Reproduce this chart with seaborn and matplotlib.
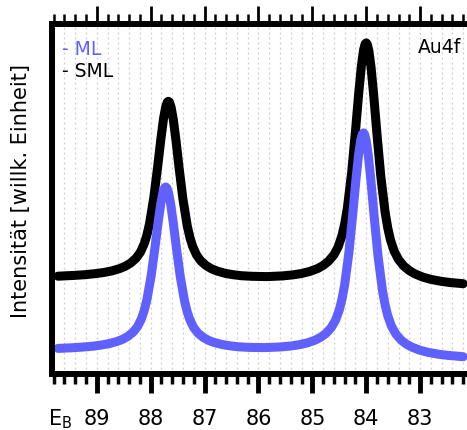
import matplotlib
matplotlib.use("Agg")
import matplotlib.pyplot as plt
from matplotlib.ticker import MultipleLocator
import seaborn as sns

# Au4f-Spektren, Werte (Intensität in willk. Einheiten)
energy_sml = [89.72, 89.42, 89.22, 89.02, 88.87, 88.72, 88.57, 88.47, 88.37, 88.27,
              88.19, 88.12, 88.07, 88.02, 87.94, 87.87, 87.81, 87.76, 87.72, 87.69,
              87.67, 87.65, 87.62, 87.58, 87.53, 87.47, 87.40, 87.32, 87.27, 87.22,
              87.15, 87.07, 86.97, 86.87, 86.77, 86.62, 86.47, 86.32, 86.12, 85.84,
              85.55, 85.35, 85.20, 85.05, 84.90, 84.80, 84.70, 84.60, 84.52, 84.45,
              84.40, 84.35, 84.27, 84.20, 84.14, 84.09, 84.05, 84.02, 84.00, 83.98,
              83.95, 83.91, 83.86, 83.80, 83.73, 83.65, 83.60, 83.55, 83.48, 83.40,
              83.30, 83.20, 83.10, 82.95, 82.80, 82.60, 82.45, 82.20]
intensity_sml = [97.8, 98.6, 99.3, 100.4, 101.5, 103.1, 105.5, 107.8, 111.0, 115.8,
                 121.8, 130.1, 138.7, 150.4, 176.8, 207.0, 235.0, 255.6, 267.2, 271.9,
                 272.7, 271.7, 266.7, 254.7, 233.7, 205.3, 174.7, 148.0, 136.3, 127.6,
                 119.2, 113.1, 108.4, 105.2, 103.0, 100.7, 99.3, 98.3, 97.7, 97.4,
                 98.1, 99.2, 100.5, 102.5, 105.5, 108.5, 112.8, 119.1, 127.2, 138.4,
                 150.0, 165.8, 201.4, 242.3, 280.2, 308.0, 323.8, 330.0, 331.1, 329.7,
                 323.0, 306.6, 278.1, 239.6, 198.1, 162.0, 146.0, 134.1, 122.7, 114.4,
                 107.8, 103.4, 100.2, 96.9, 94.6, 92.6, 91.5, 90.3]

energy_ml = [89.72, 89.47, 89.27, 89.07, 88.92, 88.77, 88.62, 88.52, 88.42, 88.32,
             88.24, 88.17, 88.12, 88.07, 87.99, 87.92, 87.86, 87.81, 87.77, 87.74,
             87.72, 87.70, 87.67, 87.63, 87.58, 87.52, 87.45, 87.37, 87.32, 87.27,
             87.20, 87.12, 87.02, 86.92, 86.82, 86.67, 86.52, 86.37, 86.17, 85.89,
             85.60, 85.40, 85.25, 85.10, 84.95, 84.85, 84.75, 84.65, 84.57, 84.50,
             84.45, 84.40, 84.32, 84.25, 84.19, 84.14, 84.10, 84.07, 84.05, 84.03,
             84.00, 83.96, 83.91, 83.85, 83.78, 83.70, 83.65, 83.60, 83.53, 83.45,
             83.35, 83.25, 83.15, 83.00, 82.85, 82.65, 82.50, 82.20]
intensity_ml = [25.6, 26.2, 26.9, 27.8, 28.9, 30.4, 32.6, 34.7, 37.7, 42.1,
                47.7, 55.3, 63.3, 74.0, 98.3, 126.2, 152.0, 171.0, 181.8, 186.2,
                187.0, 186.1, 181.6, 170.6, 151.3, 125.3, 97.2, 72.8, 62.0, 54.0,
                46.3, 40.8, 36.4, 33.5, 31.5, 29.4, 28.1, 27.2, 26.6, 26.4,
                27.0, 28.0, 29.2, 31.0, 33.8, 36.6, 40.4, 46.3, 53.7, 64.0,
                74.7, 89.2, 122.0, 159.7, 194.5, 220.0, 234.4, 240.1, 241.1, 239.7,
                233.4, 218.1, 191.7, 156.0, 117.5, 84.0, 69.2, 58.2, 47.7, 40.0,
                33.8, 29.7, 26.8, 23.7, 21.6, 19.7, 18.7, 17.3]

tick_labels = ["89", "88", "87", "86", "85", "84", "83"]

blau = "#6060ff"

sns.set_style("white")
plt.rcParams["font.family"] = ["DejaVu Sans"]
plt.rcParams["text.color"] = "black"
plt.rcParams["xtick.color"] = "black"
plt.rcParams["xtick.labelcolor"] = "black"

fig = plt.figure(figsize=(4.67, 4.30), dpi=100)
ax = fig.add_axes([52 / 467, 56 / 430, 415 / 467, 350 / 430])

sns.lineplot(x=energy_sml, y=intensity_sml, ax=ax, color="black", lw=6.5,
             sort=False, estimator=None, solid_capstyle="round", solid_joinstyle="round")
sns.lineplot(x=energy_ml, y=intensity_ml, ax=ax, color=blau, lw=6.5,
             sort=False, estimator=None, solid_capstyle="round", solid_joinstyle="round")

ax.set_xlim(89.83, 82.13)
ax.set_ylim(0, 350)

ax.xaxis.set_major_locator(MultipleLocator(1))
ax.xaxis.set_minor_locator(MultipleLocator(0.2))
ax.set_xticks([float(t) for t in tick_labels])
ax.set_xticklabels(tick_labels)
ax.set_yticks([])

ax.tick_params(axis="x", which="major", direction="out", length=13.5, width=3.5,
               labelsize=15, pad=12, top=False, bottom=True, color="black",
               labelcolor="black")
ax.tick_params(axis="x", which="minor", direction="out", length=7.5, width=2.5,
               top=False, bottom=True, color="black")
ax.tick_params(axis="y", left=False)

# obere Achse mit dünneren Ticks
oben = ax.secondary_xaxis("top")
oben.xaxis.set_major_locator(MultipleLocator(1))
oben.xaxis.set_minor_locator(MultipleLocator(0.2))
oben.tick_params(axis="x", which="major", direction="out", length=13, width=2,
                 labeltop=False, color="black")
oben.tick_params(axis="x", which="minor", direction="out", length=7, width=1.8,
                 color="black")
oben.spines["top"].set_linewidth(4.3)

ax.xaxis.grid(True, which="both", color="#cccccc", linestyle=(0, (1.5, 2.5)), linewidth=0.9)
ax.yaxis.grid(False)
ax.set_axisbelow(True)

for side in ["left", "bottom", "top"]:
    ax.spines[side].set_linewidth(4.3)
    ax.spines[side].set_color("black")
ax.spines["right"].set_visible(False)

ax.set_xlabel("")
ax.set_ylabel("")

fig.text(21 / 467, (430 - 191) / 430, "Intensität [willk. Einheit]", rotation=90,
         ha="center", va="center", fontsize=15)
fig.text(48 / 467, (430 - 425) / 430, r"E$_\mathregular{B}$", ha="left",
         va="baseline", fontsize=15)

fig.text(62 / 467, (430 - 55) / 430, "- ML", color=blau, fontsize=13.5, va="baseline")
fig.text(62 / 467, (430 - 77) / 430, "- SML", color="black", fontsize=13.5, va="baseline")
fig.text(461 / 467, (430 - 53) / 430, "Au4f", color="black", fontsize=13.5,
         ha="right", va="baseline")

fig.savefig("out.png", dpi=100)
